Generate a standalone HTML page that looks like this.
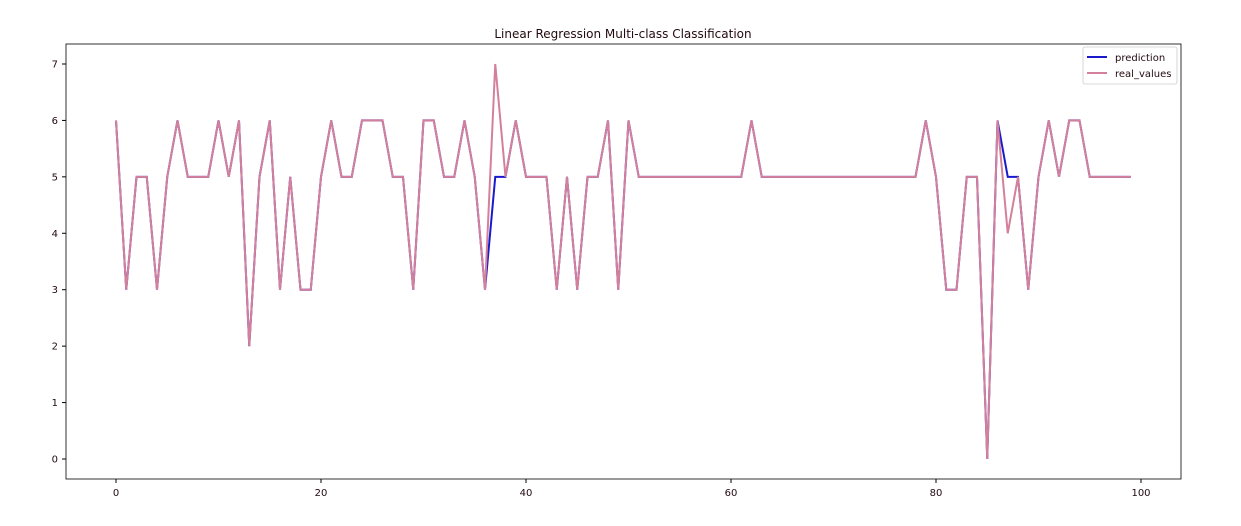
<!DOCTYPE html>
<html><head><meta charset="utf-8"><style>
html,body{margin:0;padding:0;background:#fff;}
svg{display:block;font-family:"DejaVu Sans","Liberation Sans",sans-serif;}
</style></head><body>
<svg id="chart" width="1241" height="526" viewBox="0 0 1241 526" xmlns="http://www.w3.org/2000/svg">
<rect x="66" y="44" width="1115" height="435" fill="#fff"/>
<text x="623" y="38" text-anchor="middle" font-size="12" fill="#220a10">Linear Regression Multi-class Classification</text>
<g id="xaxis"></g>
<g id="yaxis"></g>
<g id="series"></g>
<rect x="66" y="44" width="1115" height="435" fill="none" stroke="#000" stroke-width="0.8"/>
<g>
<rect x="1083" y="47" width="94" height="37" rx="2" fill="#fff" stroke="#ccc" stroke-width="0.8"/>
<g>
<line x1="1087" y1="57" x2="1107" y2="57" stroke="#1a1acd" stroke-width="2"/>
<text x="1115" y="61" font-size="10" fill="#220a10">prediction</text>
</g>
<g>
<line x1="1087" y1="73" x2="1107" y2="73" stroke="#d4809b" stroke-width="2"/>
<text x="1115" y="77" font-size="10" fill="#220a10">real_values</text>
</g>
</g>
</svg>
<script>
const realValues = [6,3,5,5,3,5,6,5,5,5,6,5,6,2,5,6,3,5,3,3,5,6,5,5,6,6,6,5,5,3,6,6,5,5,6,5,3,7,5,6,5,5,5,3,5,3,5,5,6,3,6,5,5,5,5,5,5,5,5,5,5,5,6,5,5,5,5,5,5,5,5,5,5,5,5,5,5,5,5,6,5,3,3,5,5,0,6,4,5,3,5,6,5,6,6,5,5,5,5,5];
const predictionValues = [6,3,5,5,3,5,6,5,5,5,6,5,6,2,5,6,3,5,3,3,5,6,5,5,6,6,6,5,5,3,6,6,5,5,6,5,3,5,5,6,5,5,5,3,5,3,5,5,6,3,6,5,5,5,5,5,5,5,5,5,5,5,6,5,5,5,5,5,5,5,5,5,5,5,5,5,5,5,5,6,5,3,3,5,5,0,6,5,5,3,5,6,5,6,6,5,5,5,5,5];
const xTicks = [0,20,40,60,80,100];
const yTicks = [0,1,2,3,4,5,6,7];
const NS='http://www.w3.org/2000/svg';
function xs(v){return 116+v*10.25;}
function ys(v){return 459-v*56.43;}
const xa=document.getElementById('xaxis'), ya=document.getElementById('yaxis'), sg=document.getElementById('series');
xTicks.forEach(t=>{
 const l=document.createElementNS(NS,'line');
 l.setAttribute('x1',xs(t));l.setAttribute('x2',xs(t));l.setAttribute('y1',479);l.setAttribute('y2',483);l.setAttribute('stroke','#000');
 
 
 xa.appendChild(l);
 const tx=document.createElementNS(NS,'text');
 tx.setAttribute('x',xs(t));tx.setAttribute('y',496);tx.setAttribute('text-anchor','middle');tx.setAttribute('font-size','10');tx.setAttribute('fill','#220a10');
 tx.textContent=t;
 
 
 xa.appendChild(tx);
});
yTicks.forEach(t=>{
 const l=document.createElementNS(NS,'line');
 l.setAttribute('x1',62);l.setAttribute('x2',66);l.setAttribute('y1',ys(t));l.setAttribute('y2',ys(t));l.setAttribute('stroke','#000');
 
 
 ya.appendChild(l);
 const tx=document.createElementNS(NS,'text');
 tx.setAttribute('x',58);tx.setAttribute('y',ys(t)+3.5);tx.setAttribute('text-anchor','end');tx.setAttribute('font-size','10');tx.setAttribute('fill','#220a10');
 tx.textContent=t;
 
 
 ya.appendChild(tx);
});
function line(vals,color,name){
 const p=document.createElementNS(NS,'polyline');
 p.setAttribute('points',vals.map((v,i)=>xs(i)+','+ys(v)).join(' '));
 p.setAttribute('fill','none');p.setAttribute('stroke',color);p.setAttribute('stroke-width','2');p.setAttribute('stroke-linejoin','miter');
 
 
 sg.appendChild(p);
}
line(predictionValues,'#1a1acd','prediction-line');
line(realValues,'#d4809b','real-values-line');
</script>
</body></html>
